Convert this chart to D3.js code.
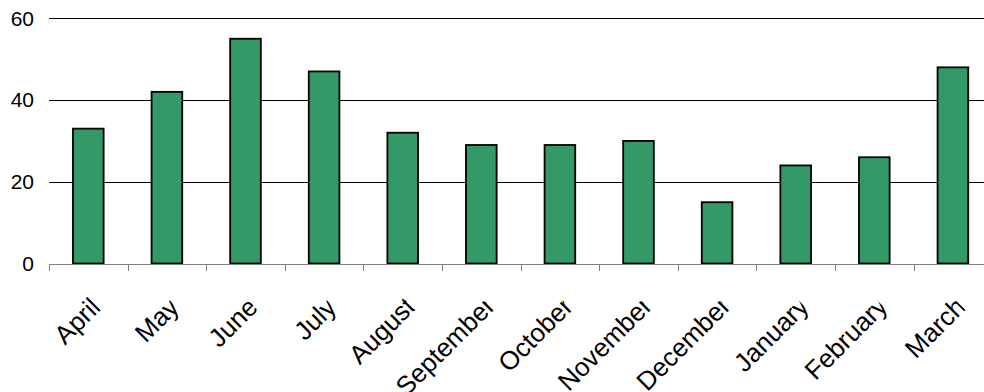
<!DOCTYPE html>
<html>
<head>
<meta charset="utf-8">
<script src="https://cdn.jsdelivr.net/npm/d3@7"></script>
<style>
  html, body { margin: 0; padding: 0; background: #fff; }
  svg { display: block; }
  text { font-family: "Liberation Sans", Arial, sans-serif; fill: #000; }
</style>
</head>
<body>
<svg id="chart" width="984" height="392"></svg>
<script>
// Monthly counts, April through March
const months = ["April", "May", "June", "July", "August", "September",
                "October", "November", "December", "January", "February", "March"];
const counts = [33, 42, 55, 47, 32, 29, 29, 30, 15, 24, 26, 48];
const yTicks = [0, 20, 40, 60];

const svg = d3.select("#chart");
const W = 984;

const plotLeft = 49;
const step = 78.6;
const plotRight = plotLeft + step * months.length;   // runs slightly past the window edge
const yZero = 263.5, yTop = 18.3;

const x = d3.scaleBand()
  .domain(months)
  .range([plotLeft, plotRight])
  .paddingInner(0.61)
  .paddingOuter(0.305);

const y = d3.scaleLinear().domain([0, 60]).range([yZero, yTop]);

// Horizontal gridlines (above zero)
svg.append("g")
  .selectAll("line")
  .data(yTicks.filter(d => d > 0))
  .join("line")
  .attr("x1", plotLeft).attr("x2", W)
  .attr("y1", d => Math.round(y(d)) + 0.5)
  .attr("y2", d => Math.round(y(d)) + 0.5)
  .attr("stroke", "#000")
  .attr("stroke-width", 1);

// Y tick labels
svg.append("g")
  .selectAll("text")
  .data(yTicks)
  .join("text")
  .attr("x", 34)
  .attr("y", d => y(d))
  .attr("dy", "0.35em")
  .attr("text-anchor", "end")
  .style("font-size", "21px")
  .text(d => d);

// Bars
svg.append("g")
  .selectAll("rect")
  .data(counts)
  .join("rect")
  .attr("x", (d, i) => x(months[i]))
  .attr("width", x.bandwidth())
  .attr("y", d => y(d))
  .attr("height", d => yZero - y(d))
  .attr("fill", "#339966")
  .attr("stroke", "#000")
  .attr("stroke-width", 1.8);

// Category axis: baseline with tick marks between categories
const axisG = svg.append("g");
axisG.append("line")
  .attr("x1", plotLeft).attr("x2", W)
  .attr("y1", Math.round(yZero) + 0.5).attr("y2", Math.round(yZero) + 0.5)
  .attr("stroke", "#808080").attr("stroke-width", 1);

const boundaries = d3.range(months.length + 1).map(i => plotLeft + i * x.step());
axisG.selectAll("line.tick")
  .data(boundaries)
  .join("line")
  .attr("class", "tick")
  .attr("x1", d => Math.round(d) + 0.5).attr("x2", d => Math.round(d) + 0.5)
  .attr("y1", Math.round(yZero)).attr("y2", Math.round(yZero) + 7)
  .attr("stroke", "#808080").attr("stroke-width", 1);

// Rotated category labels, clipped at their trailing end
const defs = svg.append("defs");
defs.append("clipPath").attr("id", "labelClip")
  .attr("clipPathUnits", "userSpaceOnUse")
  .append("rect").attr("x", -400).attr("y", -100).attr("width", 400).attr("height", 200);

const overflow = 0.03;
const labels = svg.append("g")
  .selectAll("g")
  .data(months)
  .join("g")
  .attr("transform", d => `translate(${x(d) + x.bandwidth() / 2 + 12.5},310) rotate(-45)`);

labels.append("text")
  .style("font-size", "26px")
  .attr("text-anchor", "start")
  .attr("clip-path", "url(#labelClip)")
  .text(d => d)
  .each(function () {
    const w = this.getComputedTextLength();
    d3.select(this).attr("x", -w * (1 - overflow));
  });
</script>
</body>
</html>
